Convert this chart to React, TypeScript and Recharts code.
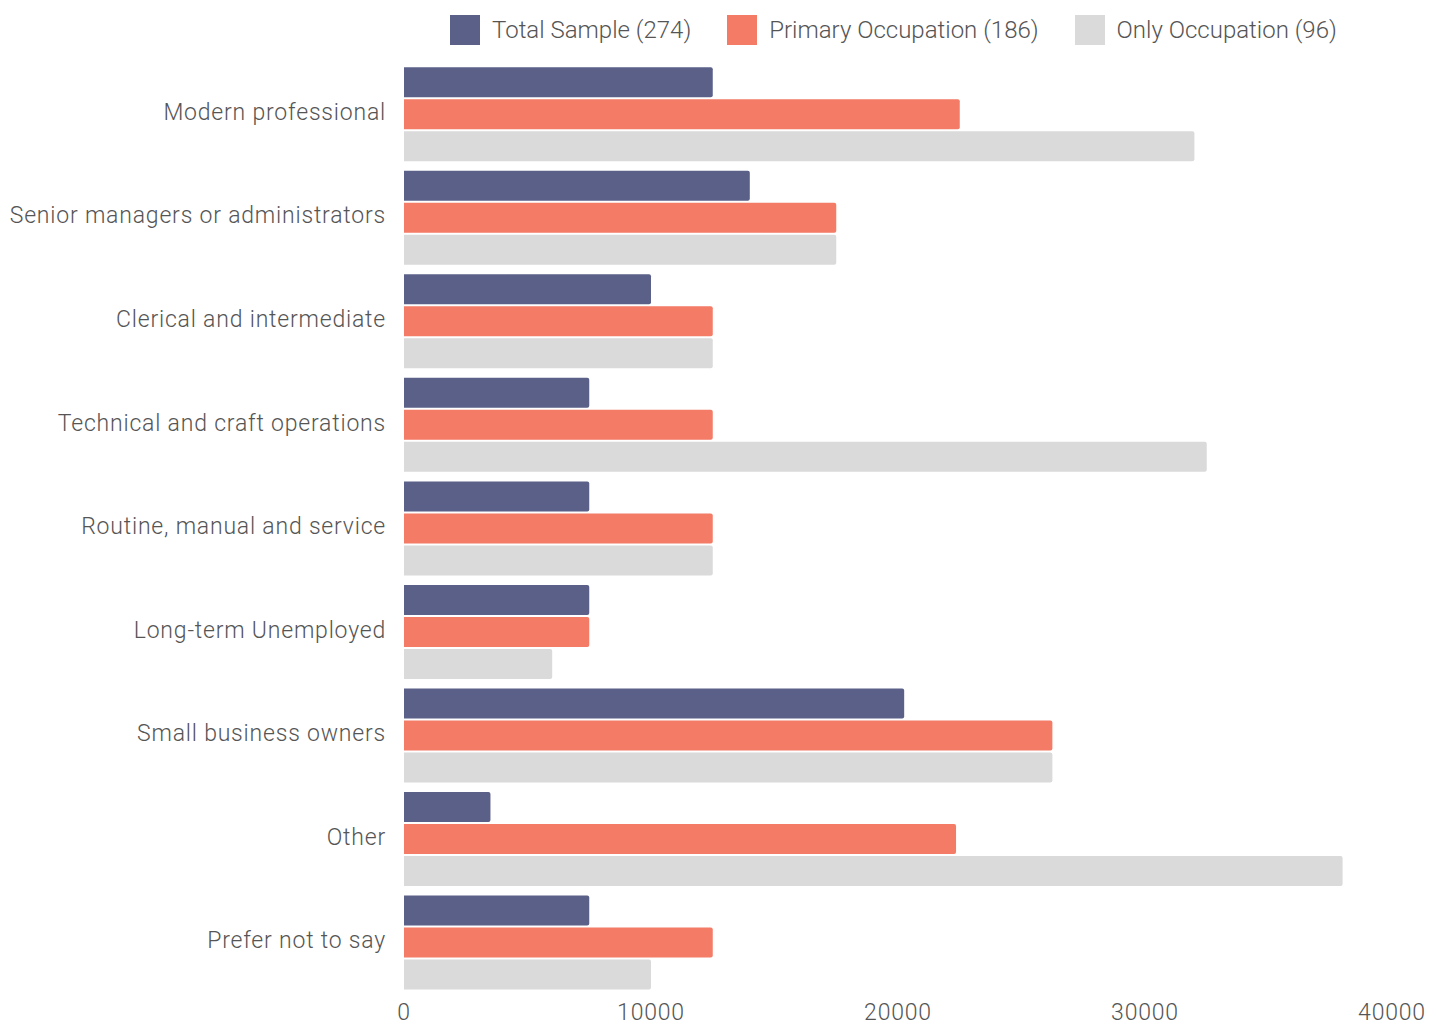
import React from 'react';
import { BarChart, Bar, XAxis, YAxis, Legend } from 'recharts';

const categories = [
  'Modern professional',
  'Senior managers or administrators',
  'Clerical and intermediate',
  'Technical and craft operations',
  'Routine, manual and service',
  'Long-term Unemployed',
  'Small business owners',
  'Other',
  'Prefer not to say',
];

const totalSample = [12500, 14000, 10000, 7500, 7500, 7500, 20250, 3500, 7500];
const primaryOccupation = [22500, 17500, 12500, 12500, 12500, 7500, 26250, 22350, 12500];
const onlyOccupation = [32000, 17500, 12500, 32500, 12500, 6000, 26250, 38000, 10000];

const xTicks = [0, 10000, 20000, 30000, 40000];

const SERIES = [
  { key: 'total', name: 'Total Sample (274)', color: '#5a6088' },
  { key: 'primary', name: 'Primary Occupation (186)', color: '#f47b66' },
  { key: 'only', name: 'Only Occupation (96)', color: '#dadada' },
];

const FONT = 'Roboto, "Noto Sans", sans-serif';
const TEXT = '#555555';

const data = categories.map((name, i) => ({
  name,
  total: totalSample[i],
  primary: primaryOccupation[i],
  only: onlyOccupation[i],
}));

// legend drawn by hand so the swatches are plain squares
const LegendBox = () => (
  <div
    style={{
      width: 1447,
      height: 36,
      paddingTop: 12,
      display: 'flex',
      alignItems: 'center',
      fontFamily: FONT,
      fontWeight: 300,
      fontSize: 24,
      color: TEXT,
    }}
  >
    <div style={{ width: 450 }} />
    {SERIES.map((s, i) => (
      <div key={s.key} style={{ display: 'flex', alignItems: 'center', marginRight: i < 2 ? 36 : 0 }}>
        <span style={{ width: 30, height: 30, background: s.color, display: 'inline-block', marginRight: 12 }} />
        <span>{s.name}</span>
      </div>
    ))}
  </div>
);

const tickStyle = { fill: TEXT, fontSize: 23, fontFamily: FONT, fontWeight: 300, letterSpacing: 0.8 };

const App: React.FC = () => {
  return (
    <div style={{ position: 'absolute', left: 0, top: 0, width: 1447, height: 1025, background: '#fff' }}>
      <BarChart
        width={1447}
        height={1025}
        data={data}
        layout="vertical"
        margin={{ top: 14, right: 55, bottom: 5, left: 0 }}
        barCategoryGap="5%"
        barGap={2}
      >
        <XAxis
          type="number"
          domain={[0, 40000]}
          ticks={xTicks}
          axisLine={false}
          tickLine={false}
          height={26}
          interval={0}
          tick={{ ...tickStyle, dy: 2 }}
        />
        <YAxis
          type="category"
          dataKey="name"
          width={404}
          axisLine={false}
          tickLine={false}
          tickMargin={12}
          interval={0}
          tick={{ ...tickStyle, dy: -2 }}
        />
        <Legend
          verticalAlign="top"
          content={() => <LegendBox />}
          wrapperStyle={{ top: 0, left: 0, width: 1447, height: 48 }}
        />
        {SERIES.map(s => (
          <Bar
            key={s.key}
            dataKey={s.key}
            name={s.name}
            fill={s.color}
            radius={[0, 2, 2, 0]}
            isAnimationActive={false}
          />
        ))}
      </BarChart>
    </div>
  );
};

export default App;
